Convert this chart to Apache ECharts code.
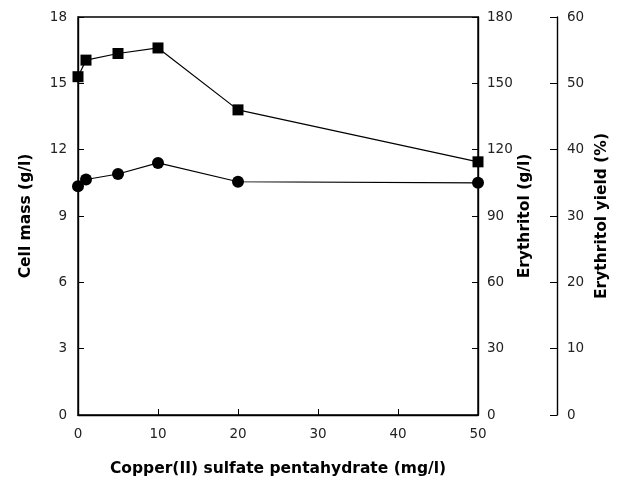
<!DOCTYPE html>
<html><head><meta charset="utf-8">
<script src="https://cdn.jsdelivr.net/npm/echarts@6/dist/echarts.min.js"></script>
<style>html,body{margin:0;padding:0;background:#fff}#c{width:628px;height:482px}</style>
</head><body><div id="c"></div>
<script>
const copperSulfate = [0, 1, 5, 10, 20, 50];
const erythritol = [153, 160.5, 163.5, 166, 138, 114.5];
const cellMass = [10.35, 10.65, 10.9, 11.4, 10.55, 10.5];

const font = 'DejaVu Sans, sans-serif';
const lbl = {color: '#222', fontSize: 13.5, fontFamily: font};
const nm = {color: '#000', fontSize: 15.5, fontWeight: 'bold', fontFamily: font};
const ln = {show: true, lineStyle: {color: '#000', width: 1.4}};

const chart = echarts.init(document.getElementById('c'));
chart.setOption({
  animation: false,
  backgroundColor: '#fff',
  grid: {left: 78, right: 150, top: 17, bottom: 66, show: true, borderColor: '#000', borderWidth: 1.4, backgroundColor: 'transparent'},
  xAxis: {
    type: 'value', min: 0, max: 50, interval: 10,
    name: 'Copper(II) sulfate pentahydrate (mg/l)', nameLocation: 'middle', nameGap: 46, nameTextStyle: nm,
    nameMoveOverlap: false,
    axisLine: ln, axisTick: {show: true, inside: true, length: 6, lineStyle: {color: '#000'}},
    axisLabel: Object.assign({margin: 12}, lbl), splitLine: {show: false}
  },
  yAxis: [
    {type: 'value', min: 0, max: 18, interval: 3, position: 'left',
     name: 'Cell mass (g/l)', nameLocation: 'middle', nameGap: 44, nameTextStyle: nm, nameMoveOverlap: false,
     axisLine: ln, axisTick: {show: true, inside: true, length: 6, lineStyle: {color: '#000'}},
     axisLabel: Object.assign({margin: 11}, lbl), splitLine: {show: false}},
    {type: 'value', min: 0, max: 180, interval: 30, position: 'right',
     name: 'Erythritol (g/l)', nameLocation: 'middle', nameGap: 39, nameTextStyle: nm, nameMoveOverlap: false,
     axisLine: ln, axisTick: {show: true, inside: true, length: 6, lineStyle: {color: '#000'}},
     axisLabel: Object.assign({margin: 9}, lbl), splitLine: {show: false}},
    {type: 'value', min: 0, max: 60, interval: 10, position: 'right', offset: 79,
     name: 'Erythritol yield (%)', nameLocation: 'middle', nameGap: 37, nameTextStyle: nm, nameMoveOverlap: false,
     axisLine: ln, axisTick: {show: true, inside: true, length: 7, lineStyle: {color: '#000'}},
     axisLabel: Object.assign({margin: 10}, lbl), splitLine: {show: false}}
  ],
  series: [
    {type: 'line', yAxisIndex: 1, data: copperSulfate.map((x, i) => [x, erythritol[i]]),
     symbol: 'rect', symbolSize: 11, itemStyle: {color: '#000'}, lineStyle: {color: '#000', width: 1.2}, z: 5},
    {type: 'line', yAxisIndex: 0, data: copperSulfate.map((x, i) => [x, cellMass[i]]),
     symbol: 'circle', symbolSize: 12, itemStyle: {color: '#000'}, lineStyle: {color: '#000', width: 1.2}, z: 5}
  ]
});
</script></body></html>
